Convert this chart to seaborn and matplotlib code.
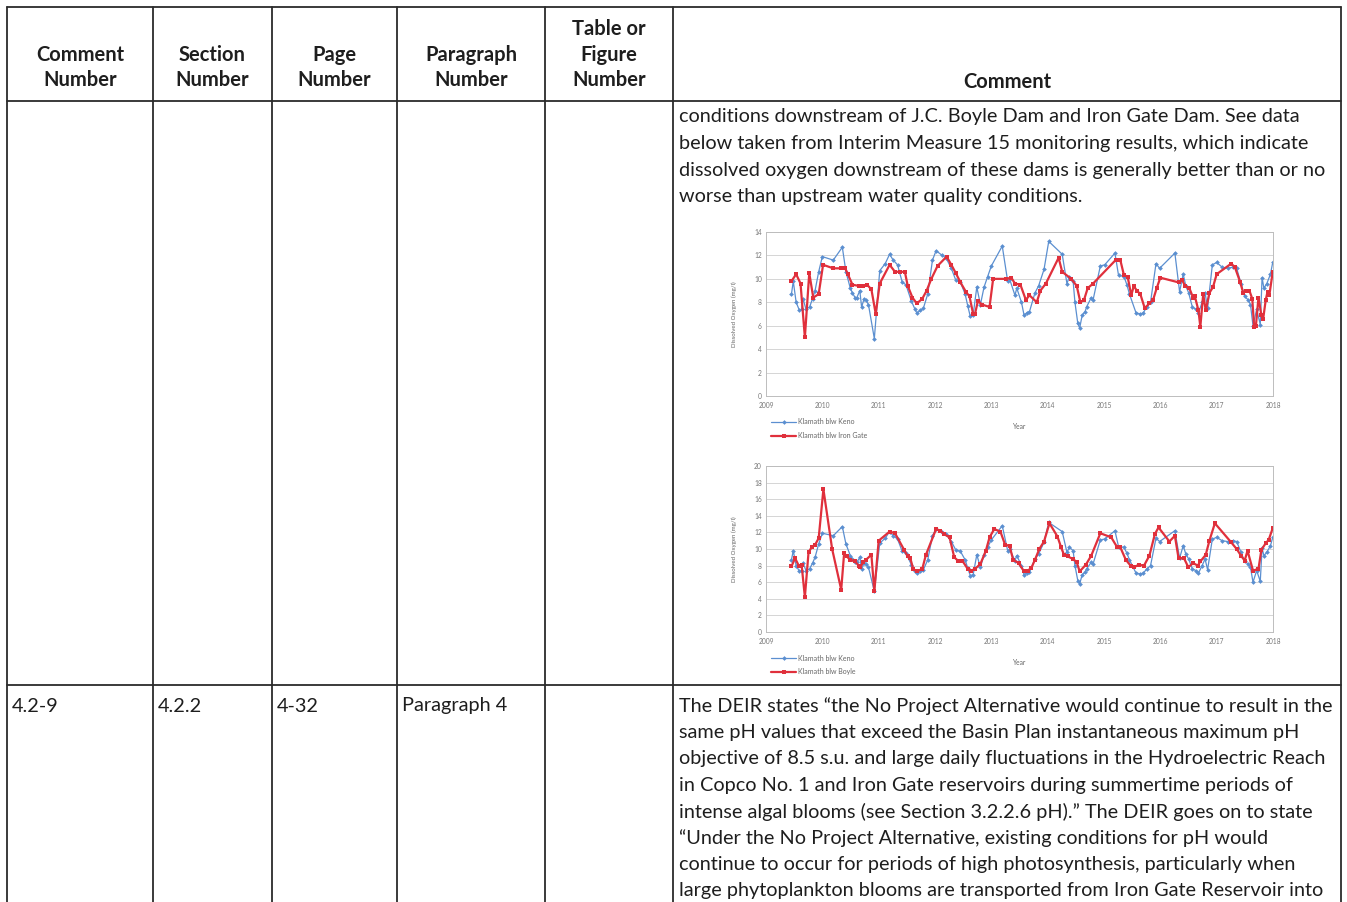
import numpy as np
import pandas as pd
import matplotlib
matplotlib.use("Agg")
import matplotlib.pyplot as plt
import seaborn as sns
from matplotlib.lines import Line2D

# ==========================================
# 1. Data
# ==========================================
# Klamath blw Keno (same series in both charts)
keno_year = [2009.452, 2009.484, 2009.535, 2009.594, 2009.632, 2009.658, 2009.710, 2009.774,
             2009.826, 2009.871, 2009.935, 2010.000, 2010.194, 2010.355, 2010.419, 2010.497,
             2010.535, 2010.581, 2010.613, 2010.665, 2010.697, 2010.742, 2010.774, 2010.819,
             2010.923, 2011.019, 2011.116, 2011.194, 2011.258, 2011.335, 2011.419, 2011.484,
             2011.581, 2011.645, 2011.677, 2011.742, 2011.794, 2011.871, 2011.955, 2012.019,
             2012.129, 2012.194, 2012.290, 2012.368, 2012.452, 2012.535, 2012.581, 2012.626,
             2012.677, 2012.742, 2012.806, 2012.871, 2012.935, 2013.000, 2013.194, 2013.290,
             2013.323, 2013.419, 2013.452, 2013.535, 2013.581, 2013.632, 2013.677, 2013.774,
             2013.839, 2013.935, 2014.019, 2014.258, 2014.342, 2014.387, 2014.452, 2014.484,
             2014.535, 2014.568, 2014.613, 2014.665, 2014.690, 2014.774, 2014.806, 2014.935,
             2015.013, 2015.194, 2015.258, 2015.355, 2015.406, 2015.452, 2015.568, 2015.645,
             2015.697, 2015.761, 2015.826, 2015.923, 2015.987, 2016.258, 2016.342, 2016.406,
             2016.452, 2016.503, 2016.568, 2016.632, 2016.677, 2016.742, 2016.794, 2016.839,
             2016.923, 2017.000, 2017.097, 2017.194, 2017.290, 2017.355, 2017.432, 2017.497,
             2017.561, 2017.600, 2017.645, 2017.710, 2017.774, 2017.806, 2017.839, 2017.890,
             2017.955, 2017.995]
keno_do = [8.7, 9.8, 8.0, 7.3, 7.4, 8.3, 7.4, 7.6,
           8.3, 9.0, 10.6, 11.9, 11.6, 12.7, 10.6, 9.2,
           8.8, 8.4, 8.4, 9.0, 7.6, 8.3, 8.2, 7.8,
           4.9, 10.7, 11.3, 12.1, 11.6, 11.2, 9.7, 9.5,
           8.1, 7.4, 7.1, 7.3, 7.5, 8.7, 11.6, 12.4,
           12.0, 11.8, 10.9, 9.9, 9.7, 8.7, 7.7, 6.8,
           6.9, 9.3, 7.8, 9.3, 10.2, 11.1, 12.8, 9.8,
           10.0, 8.6, 9.2, 8.0, 6.9, 7.1, 7.2, 8.8,
           9.4, 10.8, 13.2, 12.1, 9.6, 10.2, 9.8, 8.0,
           6.2, 5.8, 6.9, 7.2, 7.6, 8.4, 8.2, 11.1,
           11.2, 12.2, 10.3, 10.2, 9.5, 8.7, 7.1, 7.0,
           7.1, 7.6, 8.0, 11.3, 10.9, 12.2, 8.9, 10.4,
           9.4, 8.8, 7.6, 7.4, 7.1, 8.0, 8.8, 7.5,
           11.2, 11.4, 11.0, 10.9, 11.0, 10.9, 9.6, 8.5,
           8.2, 7.8, 6.0, 7.4, 6.1, 10.1, 9.2, 9.6,
           10.4, 11.4]

# Klamath blw Iron Gate (top chart)
irongate_year = [2009.452, 2009.535, 2009.613, 2009.690, 2009.768, 2009.839, 2009.935, 2010.013,
                 2010.194, 2010.323, 2010.406, 2010.452, 2010.535, 2010.645, 2010.729, 2010.794,
                 2010.871, 2010.948, 2011.019, 2011.194, 2011.290, 2011.387, 2011.465, 2011.516,
                 2011.600, 2011.677, 2011.774, 2011.852, 2011.935, 2012.045, 2012.206, 2012.290,
                 2012.368, 2012.452, 2012.548, 2012.613, 2012.677, 2012.710, 2012.761, 2012.839,
                 2012.968, 2013.032, 2013.258, 2013.355, 2013.419, 2013.516, 2013.613, 2013.677,
                 2013.806, 2013.871, 2013.968, 2014.194, 2014.258, 2014.419, 2014.516, 2014.581,
                 2014.645, 2014.710, 2014.806, 2015.206, 2015.290, 2015.355, 2015.419, 2015.484,
                 2015.529, 2015.581, 2015.645, 2015.723, 2015.806, 2015.871, 2015.935, 2016.000,
                 2016.323, 2016.387, 2016.439, 2016.516, 2016.581, 2016.613, 2016.677, 2016.710,
                 2016.761, 2016.806, 2016.871, 2016.935, 2017.000, 2017.258, 2017.323, 2017.419,
                 2017.471, 2017.516, 2017.581, 2017.632, 2017.665, 2017.697, 2017.742, 2017.794,
                 2017.826, 2017.871, 2017.903, 2017.935, 2017.995]
irongate_do = [9.8, 10.4, 9.6, 5.0, 10.5, 8.4, 8.7, 11.2,
               10.9, 10.9, 10.9, 10.4, 9.5, 9.4, 9.4, 9.5,
               9.1, 7.0, 9.6, 11.2, 10.6, 10.6, 10.6, 9.4,
               8.4, 7.9, 8.3, 9.0, 10.0, 11.1, 11.9, 11.2,
               10.5, 9.7, 8.9, 8.5, 7.0, 7.0, 8.1, 7.8,
               7.6, 10.0, 10.0, 10.1, 9.6, 9.5, 8.2, 8.6,
               8.0, 9.0, 9.6, 11.8, 10.6, 10.0, 9.4, 8.0,
               8.2, 9.2, 9.6, 11.6, 11.6, 10.3, 10.2, 8.6,
               9.4, 9.0, 8.7, 7.5, 7.9, 8.2, 9.2, 10.1,
               9.7, 9.9, 9.4, 9.2, 8.4, 8.5, 7.3, 5.9,
               8.7, 7.3, 8.8, 9.3, 10.4, 11.3, 11.0, 9.7,
               8.8, 9.0, 9.0, 8.3, 5.9, 6.0, 8.4, 6.9,
               6.6, 8.2, 8.9, 8.6, 10.6]

# Klamath blw Boyle (bottom chart)
boyle_year = [2009.452, 2009.516, 2009.581, 2009.632, 2009.690, 2009.755, 2009.819, 2009.871,
              2009.935, 2010.019, 2010.174, 2010.335, 2010.387, 2010.432, 2010.497, 2010.581,
              2010.645, 2010.677, 2010.723, 2010.774, 2010.871, 2010.923, 2011.000, 2011.194,
              2011.290, 2011.452, 2011.516, 2011.561, 2011.613, 2011.677, 2011.774, 2011.839,
              2012.019, 2012.097, 2012.161, 2012.258, 2012.342, 2012.406, 2012.484, 2012.581,
              2012.645, 2012.710, 2012.806, 2012.903, 2012.968, 2013.052, 2013.161, 2013.245,
              2013.323, 2013.387, 2013.484, 2013.581, 2013.645, 2013.710, 2013.774, 2013.852,
              2013.935, 2014.032, 2014.174, 2014.239, 2014.290, 2014.355, 2014.452, 2014.516,
              2014.568, 2014.677, 2014.774, 2014.935, 2015.129, 2015.226, 2015.290, 2015.387,
              2015.471, 2015.535, 2015.613, 2015.710, 2015.806, 2015.903, 2015.968, 2016.161,
              2016.258, 2016.323, 2016.419, 2016.497, 2016.581, 2016.665, 2016.710, 2016.806,
              2016.871, 2016.968, 2017.258, 2017.355, 2017.432, 2017.497, 2017.548, 2017.645,
              2017.742, 2017.794, 2017.871, 2017.923, 2017.995]
boyle_do = [7.9, 8.9, 8.0, 8.1, 4.2, 9.6, 10.3, 10.5,
            11.3, 17.2, 10.0, 5.1, 9.5, 9.1, 8.7, 8.5,
            8.0, 7.8, 8.4, 8.7, 9.3, 4.9, 11.0, 12.1,
            11.9, 9.9, 9.1, 8.9, 7.6, 7.3, 7.6, 9.3,
            12.4, 12.2, 11.8, 11.4, 9.0, 8.6, 8.6, 7.6,
            7.4, 7.6, 8.2, 9.8, 11.4, 12.4, 12.1, 10.5,
            10.4, 8.7, 8.3, 7.3, 7.4, 7.7, 8.7, 10.0,
            10.9, 13.1, 11.5, 10.2, 9.3, 9.1, 8.8, 8.4,
            7.3, 8.1, 9.2, 11.9, 11.4, 10.3, 10.2, 8.7,
            8.0, 7.8, 8.1, 8.0, 9.2, 11.8, 12.6, 10.9,
            11.6, 8.9, 8.9, 7.8, 8.3, 8.0, 8.5, 9.3,
            11.0, 13.1, 10.8, 10.0, 9.2, 8.6, 9.8, 7.4,
            7.6, 9.9, 10.7, 11.1, 12.5]

year_ticks = list(range(2009, 2019))
top_yticks = list(range(0, 15, 2))
bot_yticks = list(range(0, 21, 2))

# ==========================================
# 2. Page / table text
# ==========================================
header_cols = [["Comment", "Number"], ["Section", "Number"], ["Page", "Number"],
               ["Paragraph", "Number"], ["Table or", "Figure", "Number"], ["Comment"]]
top_comment = ["conditions downstream of J.C. Boyle Dam and Iron Gate Dam. See data",
               "below taken from Interim Measure 15 monitoring results, which indicate",
               "dissolved oxygen downstream of these dams is generally better than or no",
               "worse than upstream water quality conditions."]
row2_cells = ["4.2-9", "4.2.2", "4-32", "Paragraph 4", ""]
row2_comment = ["The DEIR states \u201cthe No Project Alternative would continue to result in the",
                "same pH values that exceed the Basin Plan instantaneous maximum pH",
                "objective of 8.5 s.u. and large daily fluctuations in the Hydroelectric Reach",
                "in Copco No. 1 and Iron Gate reservoirs during summertime periods of",
                "intense algal blooms (see Section 3.2.2.6 pH).\u201d The DEIR goes on to state",
                "\u201cUnder the No Project Alternative, existing conditions for pH would",
                "continue to occur for periods of high photosynthesis, particularly when",
                "large phytoplankton blooms are transported from Iron Gate Reservoir into"]

sns.set_style("white")
plt.rcParams['font.family'] = ['Lato', 'DejaVu Sans']

W, H = 1347, 902
fig = plt.figure(figsize=(W / 100, H / 100), dpi=100)
fig.patch.set_facecolor("white")


def fx(x):
    return x / W


def fy(y):
    return 1 - y / H


# table grid
col_x = [7, 153, 272, 397, 545, 673, 1341]
row_y = [7, 101, 685]
line_kw = dict(color="#2b2b2b", lw=1.3, transform=fig.transFigure)
for x in col_x:
    fig.add_artist(Line2D([fx(x), fx(x)], [fy(7), fy(905)], **line_kw))
for y in row_y:
    fig.add_artist(Line2D([fx(7), fx(1341)], [fy(y), fy(y)], **line_kw))

txt_kw = dict(fontsize=14.3, color="#1e1e1e")
# header
for i, lines in enumerate(header_cols):
    cx = fx((col_x[i] + col_x[i + 1]) / 2)
    ys = [82] if len(lines) == 1 else ([55, 80] if len(lines) == 2 else [29, 55, 80])
    for ln, yy in zip(lines, ys):
        fig.text(cx, fy(yy), ln, ha="center", va="center", fontweight="bold",
                 fontsize=14.5, color="#1e1e1e")

# comment text row 1
for i, ln in enumerate(top_comment):
    fig.text(fx(679), fy(117 + i * 26.6), ln, ha="left", va="center", **txt_kw)

# row 2
for i, cell in enumerate(row2_cells):
    fig.text(fx(col_x[i] + 5), fy(706), cell, ha="left", va="center", **txt_kw)
for i, ln in enumerate(row2_comment):
    fig.text(fx(679), fy(706 + i * 26.4), ln, ha="left", va="center", **txt_kw)

# ==========================================
# 3. Embedded DO charts
# ==========================================
blue = "#5b8fd0"
red = "#e0303c"


def do_chart(rect, red_x, red_y, red_label, yticks):
    ax = fig.add_axes(rect)
    sns.lineplot(x=keno_year, y=keno_do, ax=ax, sort=False, color=blue, lw=0.9,
                 marker="D", markersize=2.4, markeredgewidth=0, label="Klamath blw Keno")
    sns.lineplot(x=red_x, y=red_y, ax=ax, sort=False, color=red, lw=1.6,
                 marker="s", markersize=2.9, markeredgewidth=0, label=red_label)
    ax.set_xlim(year_ticks[0], year_ticks[-1])
    ax.set_ylim(yticks[0], yticks[-1])
    ax.set_xticks(year_ticks)
    ax.set_yticks(yticks)
    ax.tick_params(labelsize=4.8, colors="#777777", length=1.5, width=0.4, pad=3)
    ax.tick_params(axis="y", length=0)
    ax.grid(axis="y", color="#cfcfcf", lw=0.6)
    for s in ax.spines.values():
        s.set_color("#bdbdbd")
        s.set_linewidth(0.7)
    ax.set_xlabel("Year", fontsize=4.8, color="#666666", labelpad=10)
    ax.set_ylabel("Dissolved Oxygen (mg/l)", fontsize=4.4, color="#666666", labelpad=12)
    ax.legend(loc="upper left", bbox_to_anchor=(0.005, -0.12), frameon=False,
              fontsize=5.0, labelcolor="#666666", handlelength=3.6, handletextpad=0.3,
              labelspacing=0.95, borderaxespad=0)
    return ax


do_chart([fx(766), fy(396), fx(1273) - fx(766), fy(232) - fy(396)],
         irongate_year, irongate_do, "Klamath blw Iron Gate", top_yticks)
do_chart([fx(766), fy(632), fx(1273) - fx(766), fy(466) - fy(632)],
         boyle_year, boyle_do, "Klamath blw Boyle", bot_yticks)

fig.savefig("out.png", dpi=100, facecolor="white")
